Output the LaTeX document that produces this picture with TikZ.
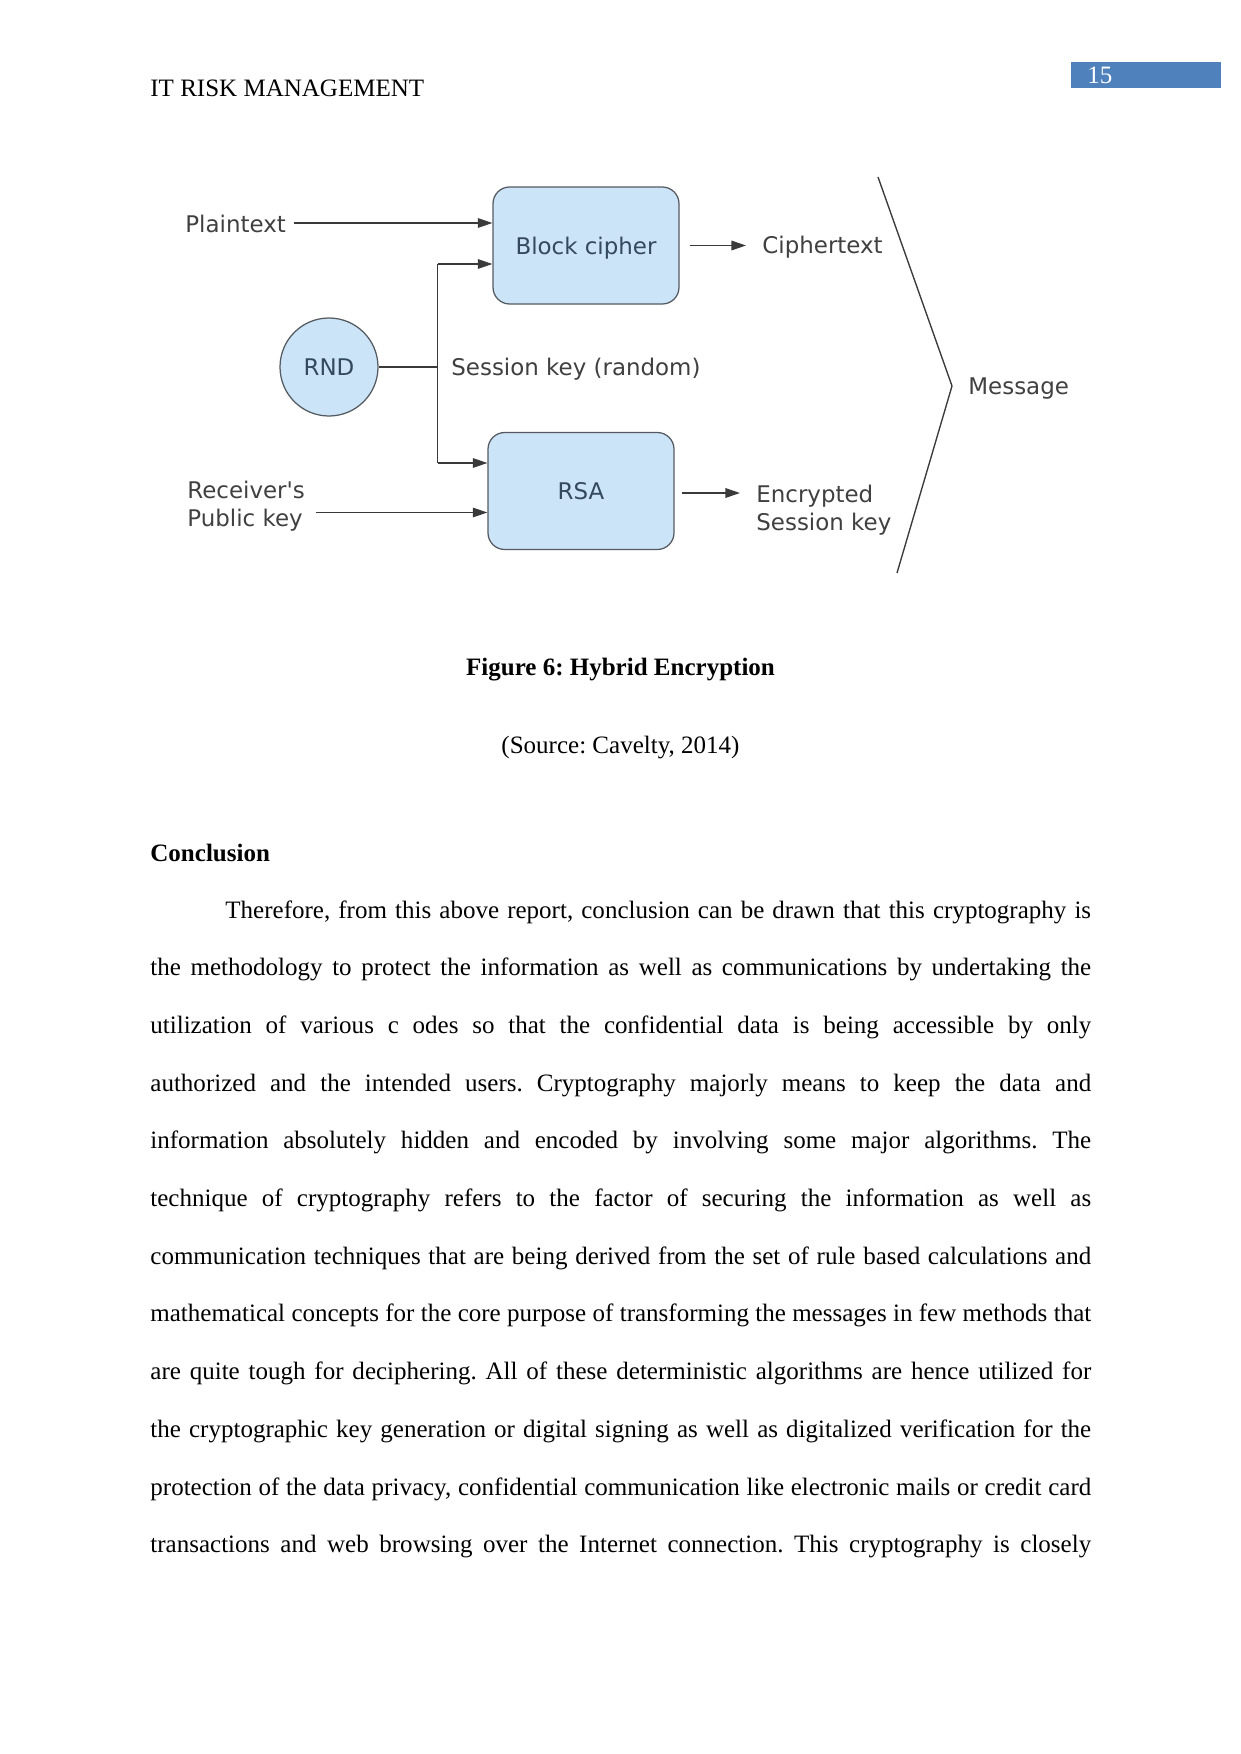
\documentclass[tikz,border=0pt]{standalone}
\usepackage{fontspec}
\setmainfont{Liberation Serif}
\newfontfamily\dejavu{DejaVu Sans}
\usetikzlibrary{arrows.meta,calc}
\frenchspacing
\definecolor{boxfill}{HTML}{CCE4F8}
\definecolor{boxline}{HTML}{555A60}
\definecolor{labtext}{HTML}{404040}
\definecolor{boxtext}{HTML}{34495E}
\definecolor{linecol}{HTML}{3A3A3A}
\definecolor{pagebox}{HTML}{4F81BD}
\tikzset{
  lab/.style={inner sep=0pt, font=\dejavu\fontsize{11}{13.2}\selectfont, text=labtext, align=left},
  proc/.style={draw=boxline, line width=0.6pt, fill=boxfill, rounded corners=8pt,
    minimum width=186*0.4797pt, minimum height=117*0.4797pt, inner sep=0pt, text depth=0pt,
    font=\dejavu\fontsize{11}{13.2}\selectfont, text=boxtext},
  rnd/.style={draw=boxline, line width=0.6pt, fill=boxfill, circle,
    minimum size=98*0.4797pt, inner sep=0pt, text depth=0pt,
    font=\dejavu\fontsize{11}{13.2}\selectfont, text=boxtext},
  conn/.style={draw=linecol, line width=0.65pt},
  arr/.style={conn, -{Triangle[length=7pt,width=4.6pt]}},
  bodyline/.style={inner sep=0pt, anchor=base west, font=\fontsize{12}{14}\selectfont},
}
\newcommand{\fullline}[1]{\makebox[451.3pt][s]{#1}}
\newcommand{\firstline}[1]{\makebox[415.3pt][s]{#1}}
\begin{document}
\begin{tikzpicture}[x=0.4797pt,y=-0.4797pt]
\useasboundingbox[fill=white] (0,0) rectangle (1241,1754);

% header
\node[inner sep=0pt, anchor=base west, font=\fontsize{12}{14}\selectfont] (hdr) at (150,97) {IT RISK MANAGEMENT};
\node[fill=pagebox, anchor=north west, minimum width=150*0.4797pt, minimum height=26*0.4797pt, inner sep=0pt] (pgbox) at (1071,62) {};
\node[inner sep=0pt, anchor=base west, text=white, font=\fontsize{12}{14}\selectfont] (pgnum) at (1087,84) {15};

% diagram
\node[proc] (blk) at (586,245.5) {Block cipher};
\node[proc] (rsa) at (581,491) {RSA};
\node[rnd] (rndc) at (329,367) {RND};

\node[lab, anchor=base west] (pt) at (185,232) {Plaintext};
\node[lab, anchor=base west] (sk) at (451,375) {Session key (random)};
\node[lab, anchor=north west] (rcv) at (187,481) {Receiver's\\Public key};
\node[lab, anchor=north west] (esk) at (756,485) {Encrypted\\Session key};
\node[lab, anchor=base west] (ct) at (762,253) {Ciphertext};
\node[lab, anchor=base west] (msg) at (968,394) {Message};

\coordinate (jn) at (437.5,367);
\coordinate (jtop) at (437.5,264);
\coordinate (jbot) at (437.5,463);
\coordinate (br1) at (878,177);
\coordinate (br2) at (952,386);
\coordinate (br3) at (897,573);

\draw[arr] (294,223) coordinate (ptS) -- (ptS -| blk.west);
\draw[conn] (rndc.east) -- (jn);
\draw[conn] (jtop) -- (jbot);
\draw[arr] (jtop) -- (jtop -| blk.west);
\draw[arr] (jbot) -- (jbot -| rsa.west);
\draw[arr] (316,512.5) coordinate (rcvS) -- (rcvS -| rsa.west);
\draw[arr] ([xshift=10*0.4797pt]blk.east) -- ([xshift=-16*0.4797pt]ct.west |- blk.east);
\draw[arr] ([xshift=7*0.4797pt]rsa.east |- 0,493) coordinate (esS) -- (740,493);
\draw[conn] (br1) -- (br2) -- (br3);

% caption
\node[inner sep=0pt, anchor=base, font=\bfseries\fontsize{12}{14}\selectfont] (cap) at (620.5,675) {Figure 6: Hybrid Encryption};
\node[inner sep=0pt, anchor=base, font=\fontsize{12}{14}\selectfont] (src) at (620.5,753) {(Source: Cavelty, 2014)};

% body
\node[bodyline, font=\bfseries\fontsize{12}{14}\selectfont] (concl) at (150,861) {Conclusion};
\node[bodyline] (b1) at (225,918) {\firstline{Therefore, from this above report, conclusion can be drawn that this cryptography is}};
\node[bodyline] (b2) at (150,975.7) {\fullline{the methodology to protect the information as well as communications by undertaking the}};
\node[bodyline] (b3) at (150,1033.4) {\fullline{utilization of various c odes so that the confidential data is being accessible by only}};
\node[bodyline] (b4) at (150,1091.1) {\fullline{authorized and the intended users. Cryptography majorly means to keep the data and}};
\node[bodyline] (b5) at (150,1148.8) {\fullline{information absolutely hidden and encoded by involving some major algorithms. The}};
\node[bodyline] (b6) at (150,1206.5) {\fullline{technique of cryptography refers to the factor of securing the information as well as}};
\node[bodyline] (b7) at (150,1264.2) {\fullline{communication techniques that are being derived from the set of rule based calculations and}};
\node[bodyline] (b8) at (150,1321.9) {\fullline{mathematical concepts for the core purpose of transforming the messages in few methods that}};
\node[bodyline] (b9) at (150,1379.6) {\fullline{are quite tough for deciphering. All of these deterministic algorithms are hence utilized for}};
\node[bodyline] (b10) at (150,1437.3) {\fullline{the cryptographic key generation or digital signing as well as digitalized verification for the}};
\node[bodyline] (b11) at (150,1495) {\fullline{protection of the data privacy, confidential communication like electronic mails or credit card}};
\node[bodyline] (b12) at (150,1552.7) {\fullline{transactions and web browsing over the Internet connection. This cryptography is closely}};
\end{tikzpicture}
\end{document}
